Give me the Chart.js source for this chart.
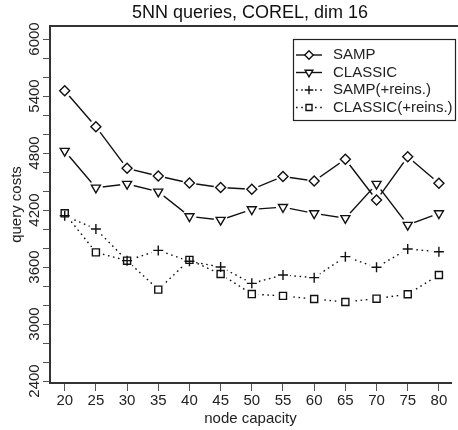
<!DOCTYPE html>
<html>
<head>
<meta charset="utf-8">
<script src="https://cdn.jsdelivr.net/npm/chart.js@4/dist/chart.umd.min.js"></script>
<style>
    html, body { margin: 0; padding: 0; background: #fff; }
    canvas { display: block; }
</style>
</head>
<body>
<canvas id="costChart" width="458" height="430"></canvas>
<script>
// --- Data ---
const capacities = [20, 25, 30, 35, 40, 45, 50, 55, 60, 65, 70, 75, 80];
const sampCosts = [5456, 5077, 4639, 4558, 4484, 4437, 4418, 4553, 4505, 4734, 4305, 4761, 4481];
const classicCosts = [4821, 4435, 4474, 4393, 4133, 4095, 4207, 4230, 4165, 4113, 4474, 4042, 4165];
const sampReinsCosts = [4140, 4000, 3667, 3775, 3660, 3600, 3428, 3516, 3488, 3709, 3597, 3789, 3761];
const classicReinsCosts = [4165, 3754, 3667, 3362, 3675, 3526, 3315, 3296, 3263, 3232, 3267, 3313, 3516];

const yMinorTicks = [2400, 2600, 2800, 3000, 3200, 3400, 3600, 3800, 4000, 4200, 4400, 4600, 4800, 5000, 5200, 5400, 5600, 5800, 6000];
const yLabelTicks = [2400, 3000, 3600, 4200, 4800, 5400, 6000];

const chartTitle = '5NN queries, COREL, dim 16';

// --- Series styles ---
const INK = '#111';
const FONT = "'Liberation Sans', Arial, sans-serif";
const series = [
    { label: 'SAMP', data: sampCosts, pointStyle: 'rectRot', rotation: 0, radius: 5, dash: [] },
    { label: 'CLASSIC', data: classicCosts, pointStyle: 'triangle', rotation: 180, radius: 5.2, dash: [] },
    { label: 'SAMP(+reins.)', data: sampReinsCosts, pointStyle: 'cross', rotation: 0, radius: 5, dash: [1.6, 3.6] },
    { label: 'CLASSIC(+reins.)', data: classicReinsCosts, pointStyle: 'rect', rotation: 0, radius: 5, dash: [1.6, 3.6] }
];

Chart.defaults.font.family = FONT;
Chart.defaults.font.size = 15;
Chart.defaults.color = '#222';

const toPoints = (values) => values.map((v, i) => ({ x: capacities[i], y: v }));

// three passes per series: the line, a white gap around each point, then the marker
const datasets = [];
series.forEach(s => {
    datasets.push({
        label: s.label,
        data: toPoints(s.data),
        borderColor: INK,
        borderWidth: 1.4,
        borderDash: s.dash,
        borderCapStyle: 'butt',
        pointRadius: 0,
        tension: 0,
        fill: false,
        order: 3
    });
    datasets.push({
        label: s.label + ' gap',
        data: toPoints(s.data),
        showLine: false,
        pointStyle: 'circle',
        pointRadius: 7,
        pointBackgroundColor: '#fff',
        pointBorderWidth: 0,
        order: 2
    });
    datasets.push({
        label: s.label + ' marker',
        data: toPoints(s.data),
        showLine: false,
        pointStyle: s.pointStyle,
        pointRotation: s.rotation,
        pointRadius: s.radius,
        pointBackgroundColor: 'rgba(0,0,0,0)',
        pointBorderColor: INK,
        pointBorderWidth: 1.4,
        order: 1
    });
});

// --- Frame, title, rotated y labels and legend ---
const decorations = {
    id: 'decorations',
    afterDraw(chart) {
        const { ctx, chartArea, scales } = chart;
        ctx.save();

        // top edge of the plot frame
        ctx.strokeStyle = '#333';
        ctx.lineWidth = 2;
        ctx.beginPath();
        ctx.moveTo(chartArea.left - 1, chartArea.top);
        ctx.lineTo(chart.width, chartArea.top);
        ctx.stroke();

        // title
        ctx.fillStyle = '#111';
        ctx.font = '18px ' + FONT;
        ctx.textAlign = 'center';
        ctx.textBaseline = 'middle';
        ctx.fillText(chartTitle, 250, 13);

        // y tick labels, rotated
        ctx.fillStyle = '#222';
        ctx.font = '15px ' + FONT;
        yLabelTicks.forEach(v => {
            const y = scales.y.getPixelForValue(v);
            ctx.save();
            ctx.translate(35, y);
            ctx.rotate(-Math.PI / 2);
            ctx.fillText(String(v), 0, 0);
            ctx.restore();
        });

        // legend
        const box = { x: 293.5, y: 39.5, w: 162, h: 81 };
        ctx.fillStyle = '#fff';
        ctx.fillRect(box.x, box.y, box.w, box.h);
        ctx.strokeStyle = '#222';
        ctx.lineWidth = 1.2;
        ctx.strokeRect(box.x, box.y, box.w, box.h);

        const rowY = [55, 72.5, 90, 107.5];
        ctx.textAlign = 'left';
        ctx.textBaseline = 'middle';
        series.forEach((s, i) => {
            const y = rowY[i];
            ctx.strokeStyle = INK;
            ctx.lineWidth = 1.4;
            ctx.setLineDash(s.dash);
            ctx.beginPath();
            if (s.dash.length) {
                ctx.moveTo(296, y); ctx.lineTo(303, y);
                ctx.moveTo(315, y); ctx.lineTo(322, y);
            } else {
                ctx.moveTo(296, y); ctx.lineTo(322, y);
            }
            ctx.stroke();
            ctx.setLineDash([]);
            ctx.fillStyle = '#fff';
            Chart.helpers.drawPoint(ctx, {
                pointStyle: s.pointStyle,
                rotation: s.rotation,
                radius: s.radius * 0.85,
                borderWidth: 1.3
            }, 309, y);
            ctx.fillStyle = '#222';
            ctx.fillText(s.label, 333, y);
        });

        ctx.restore();
    }
};

// --- Chart ---
new Chart(document.getElementById('costChart'), {
    type: 'line',
    data: { datasets: datasets },
    options: {
        responsive: false,
        animation: false,
        events: [],
        layout: { padding: { top: 26, left: 0, right: 0, bottom: 0 } },
        plugins: {
            legend: { display: false },
            tooltip: { enabled: false },
            title: { display: false }
        },
        scales: {
            x: {
                type: 'linear',
                min: 17.64,
                max: 81.94,
                afterBuildTicks: (scale) => {
                    scale.ticks = capacities.map(v => ({ value: v }));
                },
                afterFit: (scale) => { scale.height = 47; },
                ticks: {
                    color: '#222',
                    padding: 1,
                    maxRotation: 0,
                    autoSkip: false
                },
                grid: {
                    drawOnChartArea: false,
                    tickLength: 8,
                    color: '#555',
                    lineWidth: 1
                },
                border: { color: '#333', width: 2 },
                title: {
                    display: true,
                    text: 'node capacity',
                    color: '#222',
                    padding: { top: 0, bottom: 2 }
                }
            },
            y: {
                type: 'linear',
                min: 2379,
                max: 6137,
                afterBuildTicks: (scale) => {
                    scale.ticks = yMinorTicks.map(v => ({ value: v }));
                },
                afterFit: (scale) => { scale.width = 50; },
                ticks: { display: false },
                grid: {
                    drawOnChartArea: false,
                    tickLength: 7,
                    color: '#555',
                    lineWidth: 1
                },
                border: { color: '#333', width: 2 },
                title: {
                    display: true,
                    text: 'query costs',
                    color: '#222',
                    padding: { top: 8, bottom: 0 }
                }
            }
        }
    },
    plugins: [decorations]
});
</script>
</body>
</html>
